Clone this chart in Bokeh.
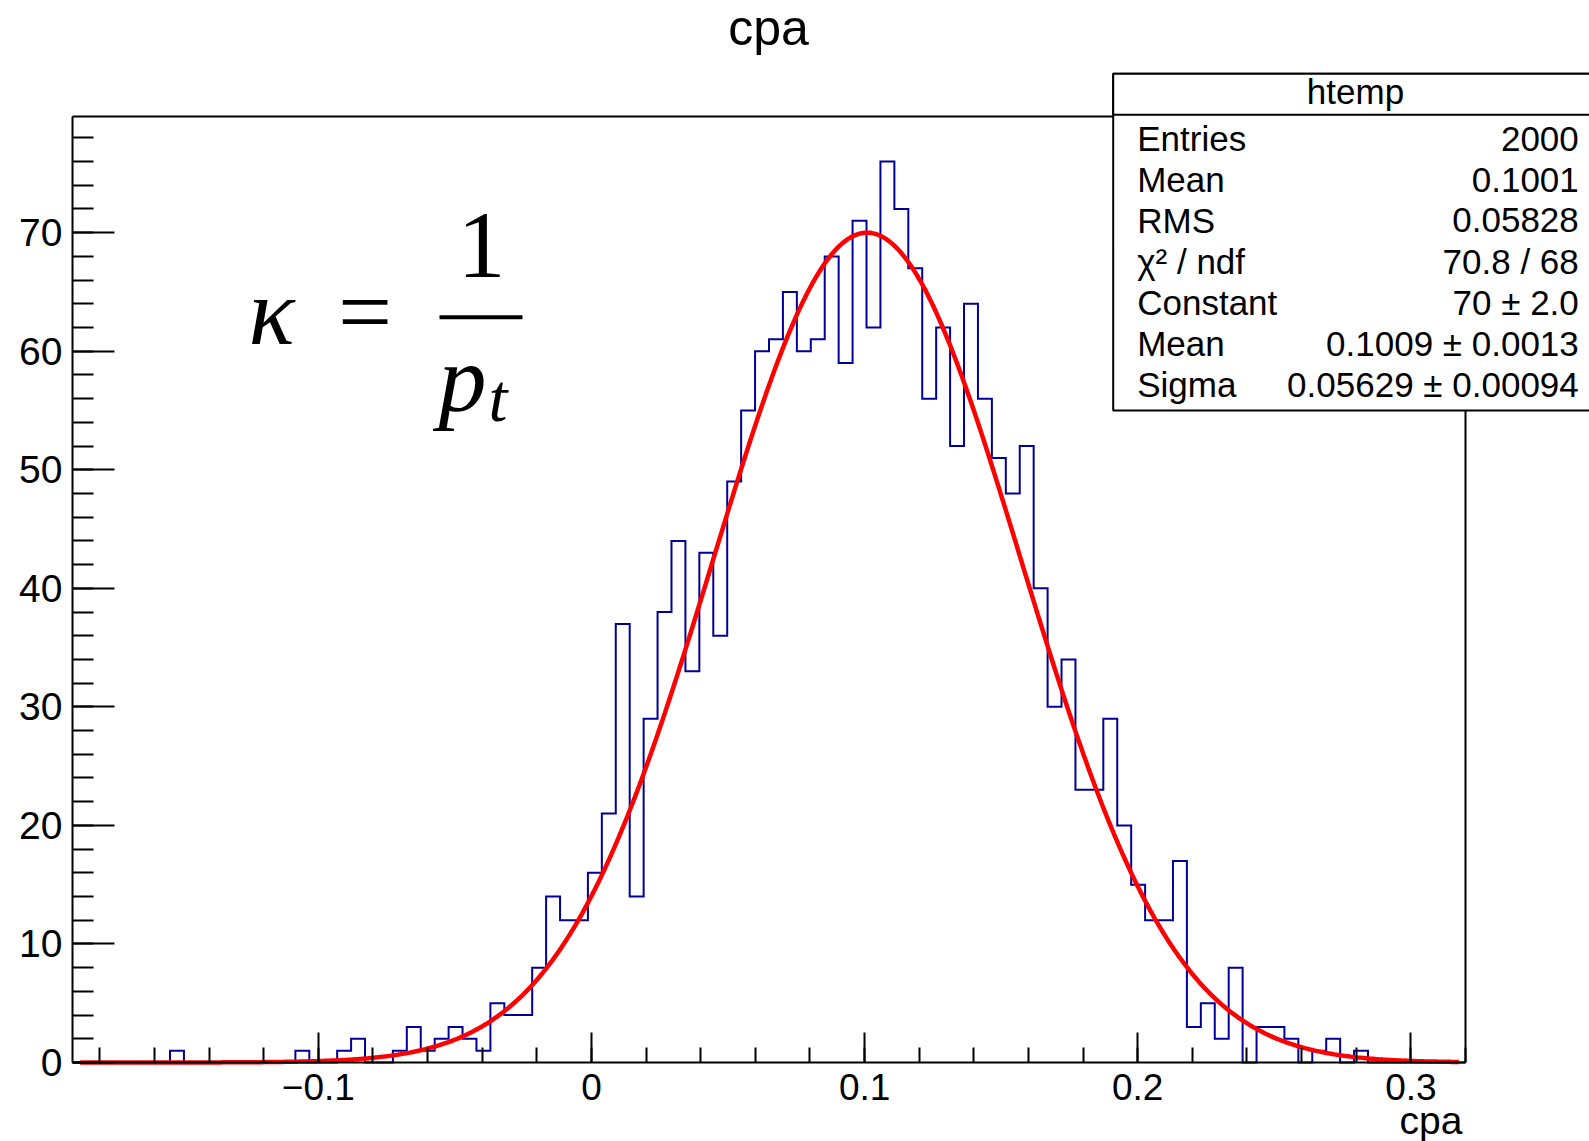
import numpy as np
from bokeh.plotting import figure
from bokeh.models import Range1d, FixedTicker, Label, BoxAnnotation
from bokeh.embed import file_html
from bokeh.resources import INLINE

# ---------------- data ----------------
x_min = -0.19
x_max = 0.32
n_bins = 100
y_max = 79.8

counts = [0, 0, 0, 0, 0, 0, 0, 1, 0, 0,
          0, 0, 0, 0, 0, 0, 1, 0, 0, 1,
          2, 0, 0, 1, 3, 1, 2, 3, 2, 1,
          5, 4, 4, 8, 14, 12, 12, 16, 21, 37,
          14, 29, 38, 44, 33, 43, 36, 49, 55, 60,
          61, 65, 60, 61, 68, 59, 71, 62, 76, 72,
          67, 56, 62, 52, 64, 56, 51, 48, 52, 40,
          30, 34, 23, 23, 29, 20, 15, 12, 12, 17,
          3, 5, 2, 8, 0, 3, 3, 2, 0, 1,
          2, 0, 1, 0, 0, 0, 0, 0, 0, 0]

fit_constant = 70.0
fit_mean = 0.1009
fit_sigma = 0.05629
fit_range = [-0.1872, 0.3176]

x_ticks = [-0.1, 0.0, 0.1, 0.2, 0.3]
x_tick_labels = ["\u22120.1", "0", "0.1", "0.2", "0.3"]
x_minor_ticks = [-0.18, -0.16, -0.14, -0.12, -0.1, -0.08, -0.06, -0.04, -0.02, 0.0,
                 0.02, 0.04, 0.06, 0.08, 0.1, 0.12, 0.14, 0.16, 0.18, 0.2,
                 0.22, 0.24, 0.26, 0.28, 0.3, 0.32]
y_ticks = [0, 10, 20, 30, 40, 50, 60, 70]
y_minor_ticks = list(range(0, 80, 2))

title_text = "cpa"
x_title = "cpa"
stats_title = "htemp"
stats_names = ["Entries", "Mean", "RMS", "\u03c7\u00b2 / ndf", "Constant", "Mean", "Sigma"]
stats_values = ["2000", "0.1001", "0.05828", "70.8 / 68", "70 \u00b1 2.0",
                "0.1009 \u00b1 0.0013", "0.05629 \u00b1 0.00094"]

# ---------------- layout (pixels) ----------------
W, H = 1589, 1141
PX_LEFT, PX_RIGHT, PX_TOP, PX_BOTTOM = 72, 1465, 116, 1062
ppx = (PX_RIGHT - PX_LEFT) / (x_max - x_min)
ppy = (PX_BOTTOM - PX_TOP) / y_max


def dx(X):
    return x_min + (X - PX_LEFT) / ppx


def dy(Y):
    return (PX_BOTTOM - Y) / ppy


p = figure(width=W, height=H,
           x_range=Range1d(dx(0), dx(W)), y_range=Range1d(dy(H), dy(0)),
           output_backend="svg", toolbar_location=None,
           min_border_left=0, min_border_right=0, min_border_top=0, min_border_bottom=0)
p.background_fill_color = "white"
p.border_fill_color = "white"
p.outline_line_color = None
p.xgrid.visible = False
p.ygrid.visible = False

FONT = "Liberation Sans"
SERIF = "Liberation Serif"
for ax in (p.xaxis[0], p.yaxis[0]):
    ax.axis_line_color = "black"
    ax.axis_line_width = 2
    ax.major_tick_line_color = "black"
    ax.minor_tick_line_color = "black"
    ax.major_tick_line_width = 2
    ax.minor_tick_line_width = 2
    ax.major_tick_out = 0
    ax.minor_tick_out = 0
    ax.major_label_text_font = FONT
    ax.major_label_text_color = "black"

xa = p.xaxis[0]
xa.fixed_location = 0
xa.bounds = (x_min, x_max)
xa.ticker = FixedTicker(ticks=x_ticks, minor_ticks=x_minor_ticks)
xa.major_label_overrides = dict(zip(x_ticks, x_tick_labels))
xa.major_tick_in = 30
xa.minor_tick_in = 15
xa.major_label_standoff = 11
xa.major_label_text_font_size = "37px"

ya = p.yaxis[0]
ya.fixed_location = x_min
ya.bounds = (0, y_max)
ya.ticker = FixedTicker(ticks=y_ticks, minor_ticks=y_minor_ticks)
ya.major_tick_in = 42
ya.minor_tick_in = 21
ya.major_label_standoff = 10
ya.major_label_text_font_size = "39px"

# frame top / right borders
p.line([x_min, x_max, x_max], [y_max, y_max, 0], line_color="black", line_width=2, line_join="miter")

# histogram outline (steps)
bw = (x_max - x_min) / n_bins
edges = x_min + bw * np.arange(n_bins + 1)
step_y = list(counts) + [counts[-1]]
p.step(edges, step_y, mode="after", line_color="#000099", line_width=2, line_join="miter")

# gaussian fit curve from the fitted parameters
fx = np.linspace(fit_range[0], fit_range[1], 600)
fy = fit_constant * np.exp(-0.5 * ((fx - fit_mean) / fit_sigma) ** 2)
p.line(fx, fy, line_color="#ff0000", line_width=4.5)


def text_label(X, Ybase, txt, size, align, font=FONT, style="normal"):
    # anchor at middle of the em box: baseline - 0.3375 em
    return Label(x=dx(X), y=dy(Ybase - 0.3375 * size), text=txt, text_font=font,
                 text_font_style=style, text_font_size=f"{size}px", text_align=align,
                 text_baseline="middle", text_color="black")


# formula kappa = 1 / p_t
p.add_layout(text_label(248, 343, "\u03ba", 96, "left", SERIF, "italic"))
p.add_layout(text_label(364.5, 343, "=", 96, "center", SERIF))
p.add_layout(text_label(481, 277, "1", 96, "center", SERIF))
p.segment(x0=[dx(439)], y0=[dy(316.7)], x1=[dx(522)], y1=[dy(316.7)], line_color="black", line_width=4)
p.add_layout(text_label(462, 410, "p", 96, "center", SERIF, "italic"))
p.add_layout(text_label(488, 420, "t", 68, "left", SERIF, "italic"))

# title and x axis title
p.add_layout(text_label(768, 44, title_text, 50, "center"))
p.add_layout(text_label(1462, 1133, x_title, 39, "right"))

# stats box
p.add_layout(BoxAnnotation(left=dx(1112.7), right=dx(1620), top=dy(73.3), bottom=dy(410),
                           fill_color="white", fill_alpha=1.0, line_color="black",
                           line_alpha=1.0, line_width=2))
p.add_layout(BoxAnnotation(left=dx(1112.7), right=dx(1620), top=dy(73.3), bottom=dy(114.3),
                           fill_color="white", fill_alpha=1.0, line_color="black",
                           line_alpha=1.0, line_width=2))
p.add_layout(text_label(1355, 103.3, stats_title, 35, "center"))
for i, (nm, val) in enumerate(zip(stats_names, stats_values)):
    base = 150 + 40.9 * i
    p.add_layout(text_label(1136.7, base, nm, 35, "left"))
    p.add_layout(text_label(1578.3, base, val, 35, "right"))

open("out.html", "w").write(file_html(p, INLINE))
